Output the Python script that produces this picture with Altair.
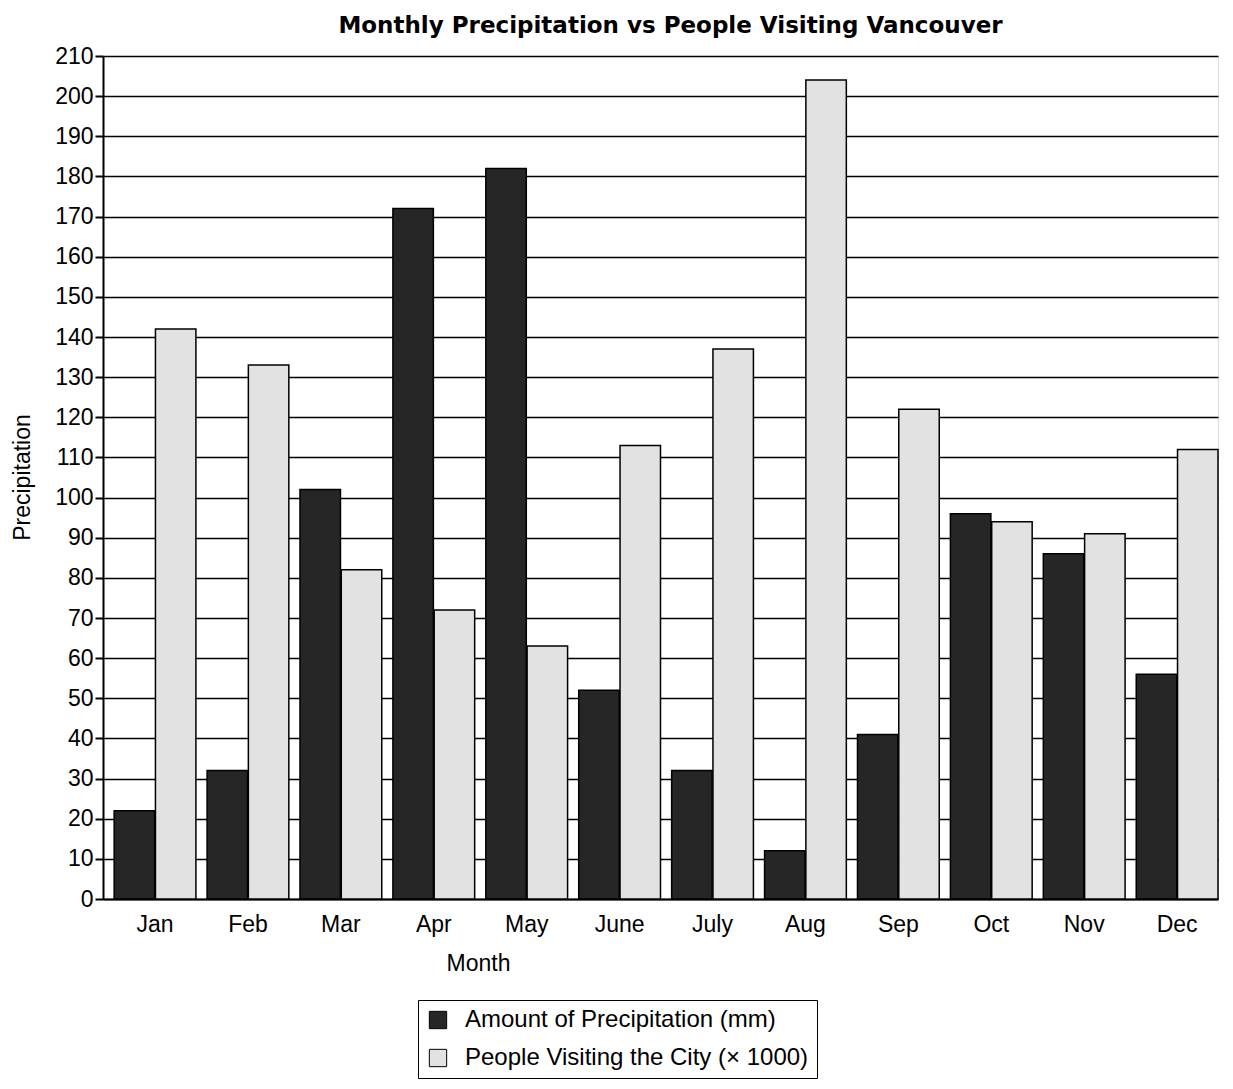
import altair as alt
import pandas as pd

months = ["Jan", "Feb", "Mar", "Apr", "May", "June", "July", "Aug", "Sep", "Oct", "Nov", "Dec"]
precipitation = [22, 32, 102, 172, 182, 52, 32, 12, 41, 96, 86, 56]
visitors = [142, 133, 82, 72, 63, 113, 137, 204, 122, 94, 91, 112]
series_names = ["Amount of Precipitation (mm)", "People Visiting the City (\u00d7 1000)"]
y_ticks = list(range(0, 211, 10))

rows = []
for m, p, v in zip(months, precipitation, visitors):
    rows.append({"Month": m, "Series": series_names[0], "Value": p})
    rows.append({"Month": m, "Series": series_names[1], "Value": v})
df = pd.DataFrame(rows)

FONT = "Liberation Sans"
FS = 23

chart = alt.Chart(df).mark_bar(stroke="black", strokeWidth=1.5).encode(
    x=alt.X("Month:N", sort=months,
            scale=alt.Scale(paddingInner=0.12, paddingOuter=0.06, align=1),
            axis=alt.Axis(title="Month", labelAngle=0, ticks=False, labelPadding=14,
                          labelFontSize=FS, labelFont=FONT, labelColor="black",
                          titleFont=FONT, titleFontSize=FS, titleFontWeight="normal",
                          titleColor="black", titleX=375, titleY=53,
                          domainColor="black", domainWidth=2)),
    xOffset=alt.XOffset("Series:N", sort=series_names,
                        scale=alt.Scale(paddingInner=0.02)),
    y=alt.Y("Value:Q", scale=alt.Scale(domain=[0, 210], nice=False),
            axis=alt.Axis(title="Precipitation", values=y_ticks, tickSize=8,
                          tickColor="black", tickWidth=2, labelPadding=2,
                          labelFontSize=FS, labelFont=FONT, labelColor="black",
                          titleFont=FONT, titleFontSize=FS, titleFontWeight="normal",
                          titleColor="black", titleX=-81, titleY=421,
                          titleAlign="center", titleBaseline="middle",
                          grid=True, gridColor="black", gridWidth=1.5, gridOpacity=1,
                          domainColor="black", domainWidth=2)),
    color=alt.Color("Series:N", sort=series_names,
                    scale=alt.Scale(domain=series_names, range=["#262626", "#e2e2e2"]),
                    legend=alt.Legend(title=None, orient="none", legendX=315, legendY=944,
                                      strokeColor="black", padding=8,
                                      symbolType="square", symbolSize=300,
                                      symbolStrokeColor="black", symbolStrokeWidth=1,
                                      labelFont=FONT, labelFontSize=24, labelColor="black",
                                      labelOffset=15, rowPadding=14,
                                      labelLimit=400)),
).properties(
    width=1115,
    height=843,
    title=alt.Title("Monthly Precipitation vs People Visiting Vancouver",
                    font="DejaVu Sans", fontSize=23, fontWeight="bold", color="black",
                    anchor="middle", offset=7, dx=10),
    autosize=alt.AutoSizeParams(type="none"),
    padding={"left": 95, "top": 48, "right": 5, "bottom": 188},
).configure_view(stroke=None).configure(background="white")

chart.save("out.html", embed_options={"renderer": "svg", "actions": False})
